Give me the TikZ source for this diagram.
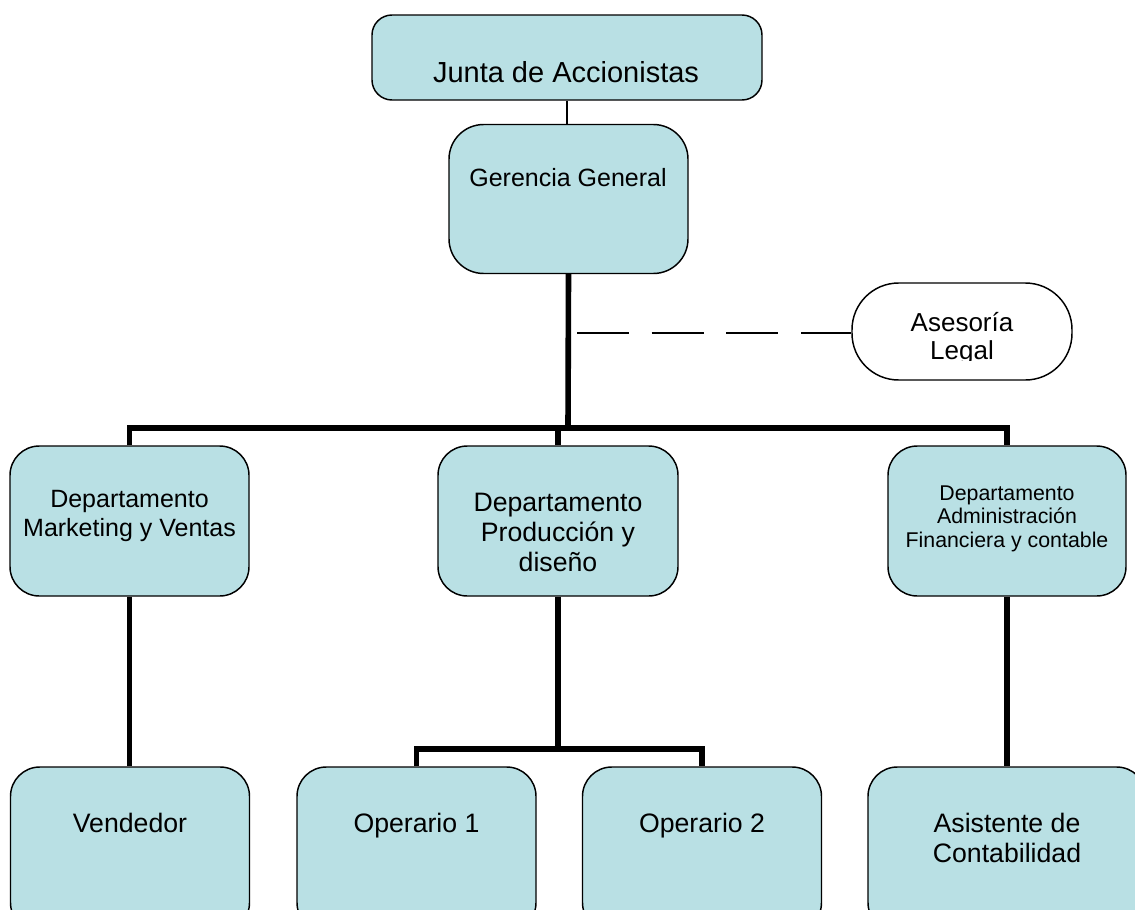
\documentclass[tikz,border=0pt]{standalone}
\usepackage{fontspec}
\setmainfont{Liberation Sans}
\usetikzlibrary{backgrounds}
\definecolor{boxfill}{RGB}{185,224,228}
\begin{document}
\begin{tikzpicture}[x=0.75pt,y=-0.75pt,
  box/.style={draw=black, line width=1.1pt, fill=boxfill, inner sep=0pt, rounded corners=22pt},
  deptbox/.style={box, minimum width=179.25pt, minimum height=112.5pt},
  lowbox/.style={box, minimum width=179.25pt, minimum height=123.75pt},
  thickline/.style={line width=4.2pt, line join=miter, line cap=butt},
  thinline/.style={line width=1.1pt},
  txt/.style={inner sep=0pt, align=center, text=black}]
\useasboundingbox (0,0) rectangle (1135,910);
\clip (0,0) rectangle (1135,910);

% boxes
\node[box, rounded corners=15pt, minimum width=292.5pt, minimum height=63.75pt] (junta) at (567,57.5) {};
\node[box, rounded corners=26pt, minimum width=179.25pt, minimum height=111.75pt] (ger) at (568.5,199) {};
\node[box, fill=white, rounded corners=35pt, minimum width=165pt, minimum height=72.75pt] (ase) at (962,331.5) {};
\node[deptbox] (mkt) at (129.5,521) {};
\node[deptbox, minimum width=180pt] (prod) at (558,521) {};
\node[deptbox, minimum width=178.5pt] (adm) at (1007,521) {};
\node[lowbox] (vend) at (130,849.5) {};
\node[lowbox] (op1) at (416.5,849.5) {};
\node[lowbox] (op2) at (702,849.5) {};
\node[lowbox, minimum width=208.5pt] (asis) at (1007,849.5) {};

% texts
\node[txt, font=\fontsize{21.75pt}{26pt}\selectfont] (juntaT) at (566,72) {Junta de Accionistas};
\node[txt, font=\fontsize{18.75pt}{22pt}\selectfont] (gerT) at (568,178) {Gerencia General};
\begin{scope}
\clip (840,280) rectangle (1090,360);
\node[txt, font=\fontsize{19.5pt}{21pt}\selectfont] (aseT) at (962,338.5) {Asesoría\\Legal};
\end{scope}
\node[txt, font=\fontsize{18.75pt}{21.75pt}\selectfont] (mktT) at (129.5,516) {Departamento\\Marketing y Ventas};
\node[txt, font=\fontsize{20pt}{22.5pt}\selectfont] (prodT) at (558,532) {Departamento\\Producción y\\diseño};
\node[txt, font=\fontsize{16pt}{17.6pt}\selectfont] (admT) at (1007,518.5) {Departamento\\Administración\\Financiera y contable};
\node[txt, anchor=base, font=\fontsize{20pt}{22.5pt}\selectfont] (vendT) at (130,832.5) {Vendedor};
\node[txt, anchor=base, font=\fontsize{20pt}{22.5pt}\selectfont] (op1T) at (416.5,832.5) {Operario 1};
\node[txt, anchor=base, font=\fontsize{20pt}{22.5pt}\selectfont] (op2T) at (702,832.5) {Operario 2};
\node[txt, font=\fontsize{20pt}{22.5pt}\selectfont] (asisT) at (1007,838) {Asistente de\\Contabilidad};

% connectors
\coordinate (bar) at (568,428);
\coordinate (sub) at (558,749);
\coordinate (dstart) at (577,333);
\begin{scope}[on background layer]
\draw[thinline] (junta.south) -- (junta.south |- ger.north);
\draw[thickline] (ger.south) -- (bar);
\draw[thickline] (mkt.north) |- (bar) -| (adm.north);
\draw[thickline] (prod.north) -- (prod.north |- bar);
\draw[thickline] (mkt.south) -- (mkt.south |- vend.north);
\draw[thickline] (prod.south) -- (sub);
\draw[thickline] (op1.north) |- (sub) -| (op2.north);
\draw[thickline] (adm.south) -- (adm.south |- asis.north);
\end{scope}
\draw[thinline, dash pattern=on 39pt off 17pt] (dstart) -- (dstart -| ase.west);
\end{tikzpicture}
\end{document}
